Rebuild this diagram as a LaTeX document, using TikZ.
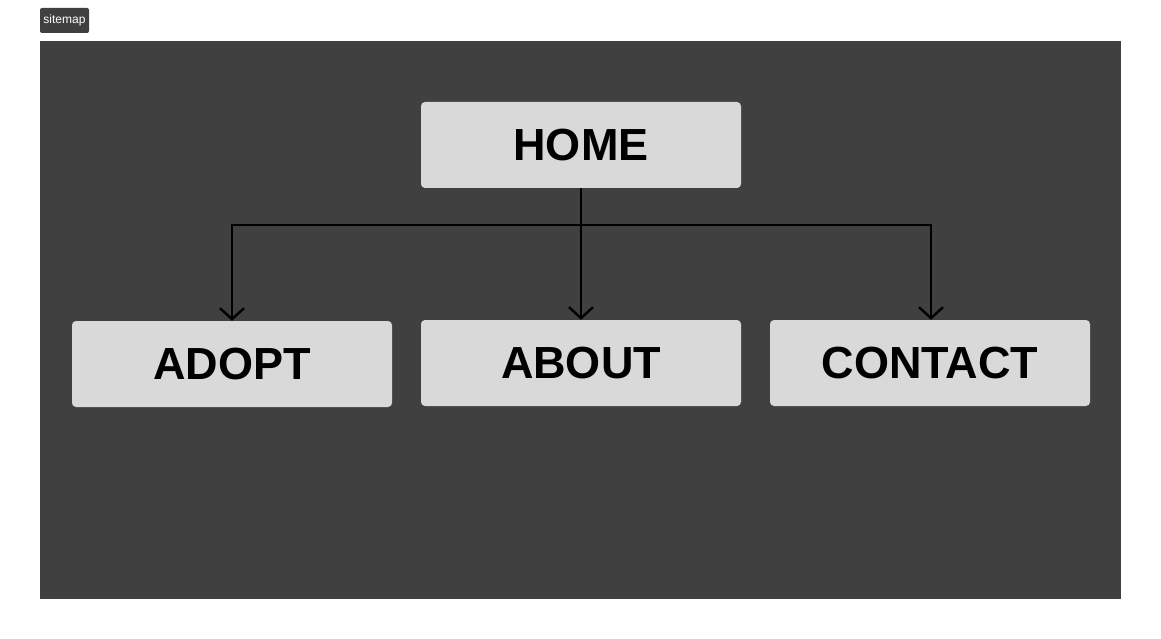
\documentclass[tikz,border=0pt]{standalone}
\usepackage{fontspec}
\setmainfont{Liberation Sans}
\usetikzlibrary{arrows.meta}
\definecolor{panel}{HTML}{404040}
\definecolor{boxfill}{HTML}{D9D9D9}
\begin{document}
\begin{tikzpicture}[x=1pt,y=-1pt,
  pagebox/.style={fill=boxfill, rounded corners=4pt, minimum width=320pt, minimum height=86pt, inner sep=0pt,
    font=\fontsize{45}{45}\selectfont\bfseries, text=black},
  link/.style={draw=black, line width=2.6pt, -{Straight Barb[length=11pt,width=24pt,line width=2.4pt]}},
  rail/.style={draw=black, line width=1.6pt}]
\useasboundingbox (0,0) rectangle (1161,639);
\fill[white] (0,0) rectangle (1161,639);
\fill[panel] (40,41) rectangle (1121,599);
\node[fill=panel, rounded corners=2pt, text=white, font=\fontsize{12}{12}\selectfont,
  minimum width=49pt, minimum height=25pt, inner sep=0pt] (tag) at (64.5,20.5) {sitemap};
\node[pagebox] (home) at (581,145) {HOME};
\node[pagebox] (adopt) at (232,364) {ADOPT};
\node[pagebox] (about) at (581,363) {ABOUT};
\node[pagebox] (contact) at (930,363) {CONTACT};
\coordinate (jl) at (232,225);
\coordinate (jr) at (931,225);
\draw[rail] (jl) -- (jr);
\draw[link] (home.south) -- (about.north);
\draw[link] ([yshift=0.8pt]jl) -- (adopt.north);
\draw[link] ([yshift=0.8pt]jr) -- (jr |- contact.north);
\end{tikzpicture}
\end{document}
